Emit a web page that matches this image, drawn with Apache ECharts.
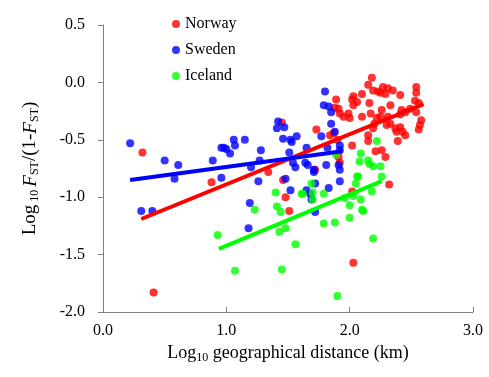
<!DOCTYPE html>
<html>
<head>
<meta charset="UTF-8">
<title>Fst vs distance</title>
<script src="https://cdn.jsdelivr.net/npm/echarts@6/dist/echarts.min.js"></script>
<style>
	html, body{
		margin:0;
		padding:0;
		background:#fff;
	}
	#main{
		width:489px;
		height:377px;
	}
</style>
</head>
<body>
<div id="main"></div>
<script>
// 散点数据 [log10 距离, log10 Fst/(1-Fst)]
var norway = [
	[0.32,-0.61],[0.41,-1.83],[0.88,-0.87],[1.34,-0.78],[1.45,-0.35],[1.46,-0.85],[1.48,-1.00],[1.51,-1.12],
	[1.72,-0.76],[1.73,-0.41],[1.84,-0.46],[1.87,-0.44],[1.89,-0.15],[1.88,-0.22],[1.91,-0.23],[1.91,-0.65],
	[1.92,-0.27],[1.92,-0.70],[1.90,-0.50],[1.95,-0.30],[1.99,-0.27],[2.00,-0.31],[2.02,-0.15],[2.02,-0.55],
	[2.02,-0.95],[2.03,-0.12],[2.03,-0.20],[2.03,-1.57],[2.06,-0.17],[2.10,-0.10],[2.10,-0.30],[2.15,-0.02],
	[2.15,-0.46],[2.15,-0.51],[2.16,-0.18],[2.17,-0.27],[2.18,0.04],[2.19,-0.07],[2.19,-0.40],[2.20,-0.36],
	[2.21,-0.60],[2.22,-0.31],[2.23,-0.08],[2.25,-0.09],[2.25,-0.30],[2.26,-0.24],[2.26,-0.59],[2.27,-0.04],
	[2.29,-0.10],[2.29,-0.65],[2.30,-0.37],[2.31,-0.05],[2.31,-0.30],[2.32,-0.89],[2.33,-0.20],[2.33,-0.36],
	[2.35,-0.07],[2.37,-0.40],[2.38,-0.43],[2.39,-0.51],[2.41,-0.11],[2.41,-0.28],[2.41,-0.39],[2.42,-0.24],
	[2.43,-0.43],[2.45,-0.26],[2.45,-0.46],[2.49,-0.23],[2.53,-0.16],[2.54,-0.04],[2.54,-0.09],[2.54,-0.26],
	[2.56,-0.18],[2.56,-0.41],[2.57,-0.37],[2.58,-0.33]
];
var sweden = [
	[0.22,-0.53],[0.31,-1.12],[0.40,-1.12],[0.50,-0.68],[0.58,-0.84],[0.61,-0.72],[0.89,-0.68],[0.96,-0.57],
	[0.96,-0.83],[0.98,-0.57],[1.00,-0.58],[1.03,-0.62],[1.06,-0.50],[1.07,-0.55],[1.15,-0.50],[1.18,-1.27],
	[1.19,-1.05],[1.20,-0.74],[1.26,-0.86],[1.27,-0.68],[1.28,-0.59],[1.41,-0.40],[1.42,-0.34],[1.46,-0.49],
	[1.47,-0.39],[1.48,-0.84],[1.51,-0.61],[1.52,-0.50],[1.52,-0.94],[1.53,-0.52],[1.54,-0.70],[1.56,-0.74],
	[1.57,-0.47],[1.64,-0.70],[1.65,-0.57],[1.65,-0.94],[1.66,-0.72],[1.68,-0.97],[1.69,-1.02],[1.71,-0.76],
	[1.71,-0.78],[1.72,-0.88],[1.72,-1.13],[1.77,-0.47],[1.79,-0.20],[1.80,-0.08],[1.81,-0.72],[1.82,-0.57],
	[1.83,-0.21],[1.83,-0.92],[1.85,-0.26],[1.85,-0.36],[1.88,-0.43],[1.91,-0.72],[1.92,-0.55],[1.92,-0.59],
	[1.92,-0.76],[1.92,-0.86]
];
var iceland = [
	[0.93,-1.33],[1.07,-1.64],[1.23,-1.11],[1.40,-0.96],[1.41,-1.08],[1.43,-1.30],[1.44,-1.13],[1.45,-1.63],
	[1.48,-1.27],[1.56,-1.41],[1.61,-0.97],[1.62,-0.97],[1.69,-0.88],[1.70,-0.96],[1.70,-1.02],[1.79,-0.97],
	[1.79,-1.23],[1.88,-1.22],[1.89,-0.63],[1.90,-1.86],[1.96,-1.01],[2.00,-1.07],[2.00,-1.18],[2.03,-0.99],
	[2.05,-0.88],[2.06,-0.82],[2.07,-0.82],[2.08,-0.69],[2.09,-0.62],[2.09,-1.02],[2.10,-1.11],[2.11,-1.12],
	[2.15,-0.68],[2.16,-0.71],[2.18,-0.95],[2.19,-0.73],[2.19,-1.36],[2.22,-0.51],[2.25,-0.73],[2.26,-0.82]
];
// 回归线端点
var norwayFit = [[0.31,-1.19],[2.60,-0.19]];
var swedenFit = [[0.22,-0.85],[1.94,-0.60]];
var icelandFit = [[0.94,-1.45],[2.26,-0.86]];

var names = ['Norway','Sweden','Iceland'];
var colors = ['#ff0000','#0000ff','#00ff00'];
var xMin = 0, xMax = 3, xStep = 1;
var yMin = -2, yMax = 0.5, yStep = 0.5;

var font = 'Liberation Serif';
var axisColor = '#808080';
var chart = echarts.init(document.getElementById('main'));

function scatter(name, data, color){
	return {
		name:name,
		type:'scatter',
		data:data,
		symbol:'circle',
		symbolSize:8,
		itemStyle:{color:color}
	};
}
function fitLine(name, data, color){
	return {
		name:name+' fit',
		type:'line',
		data:data,
		symbol:'none',
		lineStyle:{color:color, width:4},
		z:3,
		silent:true
	};
}
// 刻度文字统一一位小数, 用rich保证字体
function tickFmt(v){
	return '{t|' + v.toFixed(1) + '}';
}
var tickRich = {t:{fontFamily:font, fontSize:16, color:'#000'}};

// 坐标轴线备份(左侧和底部)
var frame = {
	name:'frame',
	type:'line',
	data:[],
	silent:true,
	markLine:{
		silent:true,
		symbol:['none','none'],
		label:{show:false},
		lineStyle:{color:axisColor, width:1, type:'solid'},
		data:[{xAxis:xMin},{yAxis:yMin}]
	}
};

var option = {
	animation:false,
	grid:{
		left:103,
		right:16,
		top:25,
		bottom:65
	},
	legend:{
		data:names,
		orient:'vertical',
		left:167,
		top:11,
		itemWidth:8,
		itemHeight:8,
		itemGap:10,
		icon:'circle',
		textStyle:{
			fontFamily:font,
			fontSize:16,
			color:'#000'
		}
	},
	xAxis:{
		type:'value',
		min:xMin,
		max:xMax,
		interval:xStep,
		name:'{n|Log}{s|10}{n| geographical distance (km)}',
		nameLocation:'middle',
		nameGap:30,
		nameTextStyle:{
			rich:{
				n:{fontFamily:font, fontSize:18, color:'#000'},
				s:{fontFamily:font, fontSize:12, color:'#000', padding:[9,0,0,0]}
			}
		},
		axisLine:{show:true, onZero:false, lineStyle:{color:axisColor, width:1}},
		axisTick:{show:true, inside:true, length:5, lineStyle:{color:axisColor}},
		axisLabel:{
			margin:11,
			formatter:tickFmt,
			rich:tickRich
		},
		splitLine:{show:false}
	},
	yAxis:{
		type:'value',
		min:yMin,
		max:yMax,
		interval:yStep,
		name:'{n|Log}{s| 10 }{i|F}{s|ST}{n|/(1-}{i|F}{s|ST}{n|)}',
		nameLocation:'middle',
		nameGap:62,
		nameRotate:90,
		nameTextStyle:{
			rich:{
				n:{fontFamily:font, fontSize:19, color:'#000'},
				i:{fontFamily:font, fontSize:19, fontStyle:'italic', color:'#000'},
				s:{fontFamily:font, fontSize:12, color:'#000', padding:[9,0,0,0]}
			}
		},
		axisLine:{show:true, onZero:false, lineStyle:{color:axisColor, width:1}},
		axisTick:{show:true, inside:false, length:5, lineStyle:{color:axisColor}},
		axisLabel:{
			margin:18,
			formatter:tickFmt,
			rich:tickRich
		},
		splitLine:{show:false}
	},
	series:[
		frame,
		scatter(names[0], norway, colors[0]),
		scatter(names[1], sweden, colors[1]),
		scatter(names[2], iceland, colors[2]),
		fitLine(names[0], norwayFit, colors[0]),
		fitLine(names[1], swedenFit, colors[1]),
		fitLine(names[2], icelandFit, colors[2])
	]
};
chart.setOption(option);
</script>
</body>
</html>
